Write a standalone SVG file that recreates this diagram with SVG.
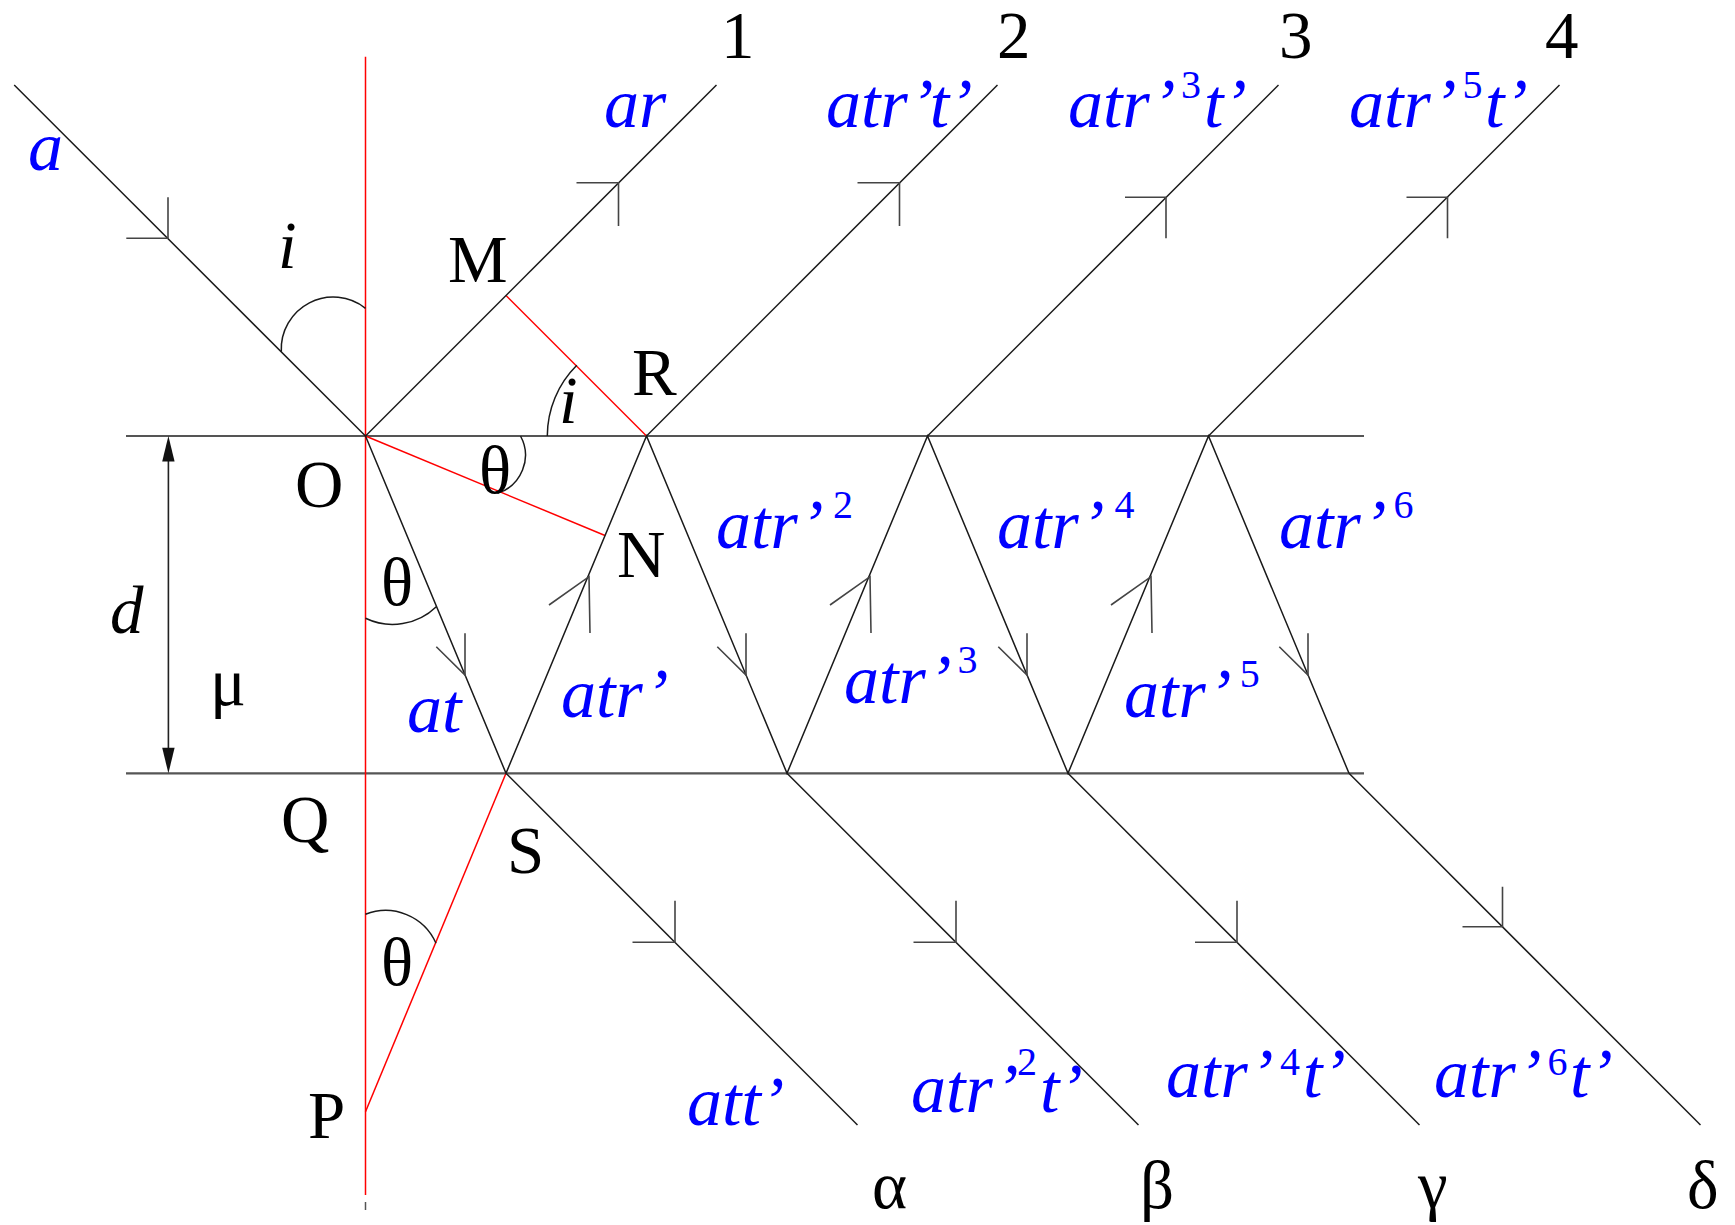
<svg xmlns="http://www.w3.org/2000/svg" width="1735" height="1225" viewBox="0 0 1735 1225">
<style>
.ray{stroke:#1a1a1a;stroke-width:1.5;fill:none}
.surf{stroke:#555;stroke-width:2.2;fill:none}
.barb{stroke:#444;stroke-width:1.6;fill:none}
.red{stroke:#ff0000;stroke-width:1.5;fill:none}
.arc{stroke:#1a1a1a;stroke-width:1.5;fill:none}
text{font-family:"Liberation Serif","Times New Roman",serif}
.lbl{font-size:67px;fill:#000}
.it{font-style:italic}
.blue{font-size:70px;fill:#0000ff;font-style:italic}
.sup{font-size:40px;font-style:normal}
</style>
<rect width="1735" height="1225" fill="#fff"/>
<g id="connectors">
  <line class="surf" x1="126" y1="436" x2="1364" y2="436"/>
  <line class="surf" x1="126" y1="773.3" x2="1364" y2="773.3"/>
  <line class="red" x1="365.5" y1="56.7" x2="365.5" y2="1195"/>
  <line x1="365.5" y1="1202" x2="365.5" y2="1210" stroke="#555" stroke-width="1.5"/>
  <line class="red" x1="506" y1="295.5" x2="646.5" y2="436"/>
  <line class="red" x1="365.5" y1="436" x2="605" y2="535.5"/>
  <line class="red" x1="506" y1="773.3" x2="365.5" y2="1111.7"/>
  <line class="ray" x1="14.2" y1="85" x2="365.5" y2="436"/>
  <line class="ray" x1="365.5" y1="436" x2="716.5" y2="85"/>
  <line class="ray" x1="646.5" y1="436" x2="997.5" y2="85"/>
  <line class="ray" x1="927.5" y1="436" x2="1278.5" y2="85"/>
  <line class="ray" x1="1208.5" y1="436" x2="1559.5" y2="85"/>
  <polyline class="ray" points="365.5,436 506,773.3 646.5,436 787,773.3 927.5,436 1068,773.3 1208.5,436 1349,773.3"/>
  <line class="ray" x1="506" y1="773.3" x2="857.5" y2="1125"/>
  <line class="ray" x1="787" y1="773.3" x2="1138.5" y2="1125"/>
  <line class="ray" x1="1068" y1="773.3" x2="1419.5" y2="1125"/>
  <line class="ray" x1="1349" y1="773.3" x2="1700.5" y2="1125"/>
  <!-- arrowheads -->
  <polyline class="barb" points="126.3,238.3 168,238.3 168,197.3"/>
  <polyline class="barb" points="576.5,182.7 618.5,182.7 618.5,226"/>
  <polyline class="barb" points="857.5,182.7 899.5,182.7 899.5,226"/>
  <polyline class="barb" points="1125,197.3 1166,197.3 1166,238.3"/>
  <polyline class="barb" points="1406.5,197.3 1447.5,197.3 1447.5,238.3"/>
  <polyline class="barb" points="436.3,646.7 465,675 465,633.3"/>
  <polyline class="barb" points="717.3,646.7 746,675 746,633.3"/>
  <polyline class="barb" points="998.3,646.7 1027,675 1027,633.3"/>
  <polyline class="barb" points="1279.3,646.7 1308,675 1308,633.3"/>
  <polyline class="barb" points="549,605 589,576.7 590,633"/>
  <polyline class="barb" points="830,605 870,576.7 871,633"/>
  <polyline class="barb" points="1111,605 1151,576.7 1152,633"/>
  <polyline class="barb" points="632.5,942.3 675,942.3 675,900.7"/>
  <polyline class="barb" points="913.5,942.3 956,942.3 956,900.7"/>
  <polyline class="barb" points="1195,942.3 1237,942.3 1237,900.7"/>
  <polyline class="barb" points="1462.5,926.7 1502.5,926.7 1502.5,886.7"/>
  <!-- angle arcs -->
  <path class="arc" d="M281.3 351.7 A52 52 0 0 1 365.5 308.3"/>
  <path class="arc" d="M547.3 436 A100 100 0 0 1 576.8 365.3"/>
  <path class="arc" d="M520.5 436 A40 40 0 0 1 497.5 493.3"/>
  <path class="arc" d="M365.5 618.3 A63 63 0 0 0 436.3 606.7"/>
  <path class="arc" d="M365.5 914.3 A55 55 0 0 1 436 943.3"/>
  <!-- thickness arrow -->
  <line x1="168.4" y1="455" x2="168.4" y2="754" stroke="#222" stroke-width="1.6"/>
  <polygon points="168.4,436 162.2,461.5 174.6,461.5" fill="#111"/>
  <polygon points="168.4,773.3 162.2,747.8 174.6,747.8" fill="#111"/>
</g>
<g id="point-labels">
  <g id="lbl-M"><text class="lbl" x="448" y="281.7">M</text></g>
  <g id="lbl-R"><text class="lbl" x="632" y="395">R</text></g>
  <g id="lbl-O"><text class="lbl" x="295" y="507.3">O</text></g>
  <g id="lbl-N"><text class="lbl" x="617" y="576.7">N</text></g>
  <g id="lbl-Q"><text class="lbl" x="281" y="841.7">Q</text></g>
  <g id="lbl-S"><text class="lbl" x="507" y="872.7">S</text></g>
  <g id="lbl-P"><text class="lbl" x="308" y="1138.3">P</text></g>
  <g id="lbl-i1"><text class="lbl it" x="278" y="268">i</text></g>
  <g id="lbl-i2"><text class="lbl it" x="559" y="423.3">i</text></g>
  <g id="lbl-theta1"><text class="lbl" x="479" y="493">θ</text></g>
  <g id="lbl-theta2"><text class="lbl" x="381" y="605">θ</text></g>
  <g id="lbl-theta3"><text class="lbl" x="381" y="985">θ</text></g>
  <g id="lbl-d"><text class="lbl it" x="110" y="633.3">d</text></g>
  <g id="lbl-mu"><text class="lbl" x="210" y="705">μ</text></g>
  <g id="lbl-1"><text class="lbl" x="721" y="58.3">1</text></g>
  <g id="lbl-2"><text class="lbl" x="997" y="58.3">2</text></g>
  <g id="lbl-3"><text class="lbl" x="1279" y="58.3">3</text></g>
  <g id="lbl-4"><text class="lbl" x="1545" y="58.3">4</text></g>
  <g id="lbl-alpha"><text class="lbl" x="872" y="1208.3">α</text></g>
  <g id="lbl-beta"><text class="lbl" x="1140" y="1208.3">β</text></g>
  <g id="lbl-gamma"><text class="lbl" x="1418" y="1208.3">γ</text></g>
  <g id="lbl-delta"><text class="lbl" x="1687" y="1208.3">δ</text></g>
</g>
<g id="amplitude-labels">
  <g id="amp-a"><text class="blue" x="28" y="170">a</text></g>
  <g id="amp-ar"><text class="blue" x="604" y="126.7">ar</text></g>
  <g id="amp-atrt"><text class="blue" x="826" y="126.7">atr’<tspan dx="4">t’</tspan></text></g>
  <g id="amp-atr3t"><text class="blue" x="1068" y="126.7">atr’<tspan class="sup" x="1181" dy="-28.4">3</tspan><tspan x="1204" dy="28.4">t’</tspan></text></g>
  <g id="amp-atr5t"><text class="blue" x="1349" y="126.7">atr’<tspan class="sup" x="1462.5" dy="-28.4">5</tspan><tspan x="1485" dy="28.4">t’</tspan></text></g>
  <g id="amp-at"><text class="blue" x="407" y="731.7">at</text></g>
  <g id="amp-atr1"><text class="blue" x="561" y="716.7">atr’</text></g>
  <g id="amp-atr2"><text class="blue" x="716" y="548.3">atr’<tspan class="sup" x="833" dy="-30">2</tspan></text></g>
  <g id="amp-atr3"><text class="blue" x="844" y="703.3">atr’<tspan class="sup" x="957.6" dy="-30">3</tspan></text></g>
  <g id="amp-atr4"><text class="blue" x="997" y="548.3">atr’<tspan class="sup" x="1114.5" dy="-30">4</tspan></text></g>
  <g id="amp-atr5"><text class="blue" x="1124" y="716.7">atr’<tspan class="sup" x="1239.7" dy="-30">5</tspan></text></g>
  <g id="amp-atr6"><text class="blue" x="1279" y="548.3">atr’<tspan class="sup" x="1393.6" dy="-30">6</tspan></text></g>
  <g id="amp-att"><text class="blue" x="687" y="1125">att’</text></g>
  <g id="amp-atr2t"><text class="blue" x="911" y="1111.7">atr’<tspan class="sup" x="1017" dy="-36.7">2</tspan><tspan x="1040" dy="36.7">t’</tspan></text></g>
  <g id="amp-atr4t"><text class="blue" x="1166" y="1096.7">atr’<tspan class="sup" x="1280" dy="-21.7">4</tspan><tspan x="1303" dy="21.7">t’</tspan></text></g>
  <g id="amp-atr6t"><text class="blue" x="1434" y="1096.7">atr’<tspan class="sup" x="1547.5" dy="-21.7">6</tspan><tspan x="1570" dy="21.7">t’</tspan></text></g>
</g>
</svg>
